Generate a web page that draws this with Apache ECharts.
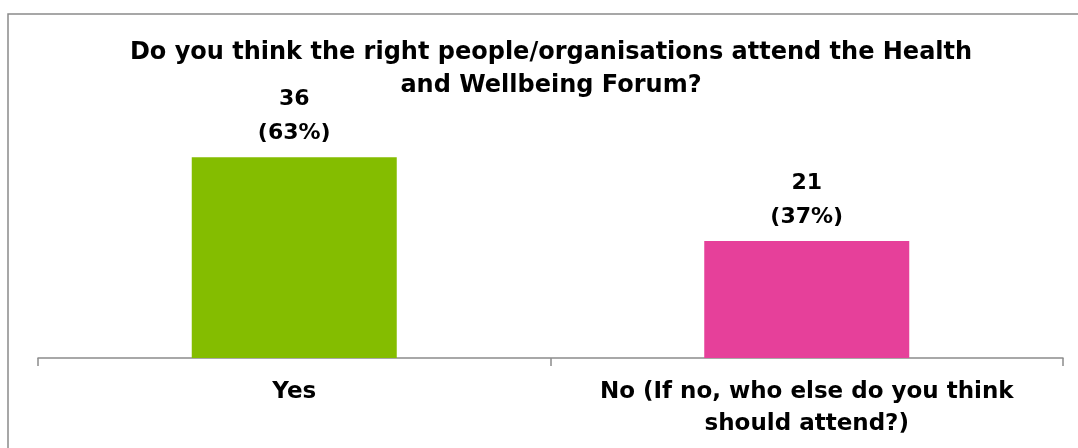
<!DOCTYPE html>
<html>
<head>
<meta charset="utf-8">
<script src="https://cdn.jsdelivr.net/npm/echarts@6/dist/echarts.min.js"></script>
<style>html,body{margin:0;padding:0;background:#fff;}#main{width:1078px;height:448px;}</style>
</head>
<body>
<div id="main"></div>
<script>
const titleText = 'Do you think the right people/organisations attend the Health\nand Wellbeing Forum?';
const categories = ['Yes', 'No (If no, who else do you think\nshould attend?)'];
const counts = [36, 21];
const percents = [63, 37];
const barColors = ['#84BD00', '#E6409A'];

const FONT = '"DejaVu Sans", Tahoma, sans-serif';
const chart = echarts.init(document.getElementById('main'));
chart.setOption({
  backgroundColor: '#ffffff',
  animation: false,
  graphic: [{
    type: 'rect', z: -1,
    shape: { x: 8, y: 14, width: 1100, height: 500 },
    style: { fill: 'none', stroke: '#8a8a8a', lineWidth: 1.5 }
  }],
  title: {
    text: titleText,
    left: 546, top: 31, textAlign: 'center',
    textStyle: { fontFamily: FONT, fontWeight: 'bold', fontSize: 24, color: '#000', lineHeight: 33 }
  },
  grid: { left: 38, right: 15, top: 135, bottom: 90 },
  xAxis: {
    type: 'category',
    data: categories,
    axisLine: { lineStyle: { color: '#8c8c8c', width: 1.5 } },
    axisTick: { show: true, length: 8, lineStyle: { color: '#8c8c8c', width: 1.5 } },
    axisLabel: {
      interval: 0, margin: 18, color: '#000', fontFamily: FONT, fontWeight: 'bold',
      fontSize: 23, lineHeight: 32, verticalAlign: 'top'
    }
  },
  yAxis: { type: 'value', min: 0, max: 40, show: false, splitLine: { show: false } },
  series: [{
    type: 'bar',
    barCategoryGap: '60%',
    data: counts.map((v, i) => ({ value: v, itemStyle: { color: barColors[i] } })),
    label: {
      show: true, position: 'top', distance: 7,
      formatter: p => counts[p.dataIndex] + '\n(' + percents[p.dataIndex] + '%)',
      color: '#000', fontFamily: FONT, fontWeight: 'bold', fontSize: 22, lineHeight: 34, align: 'center'
    }
  }]
});
</script>
</body>
</html>
